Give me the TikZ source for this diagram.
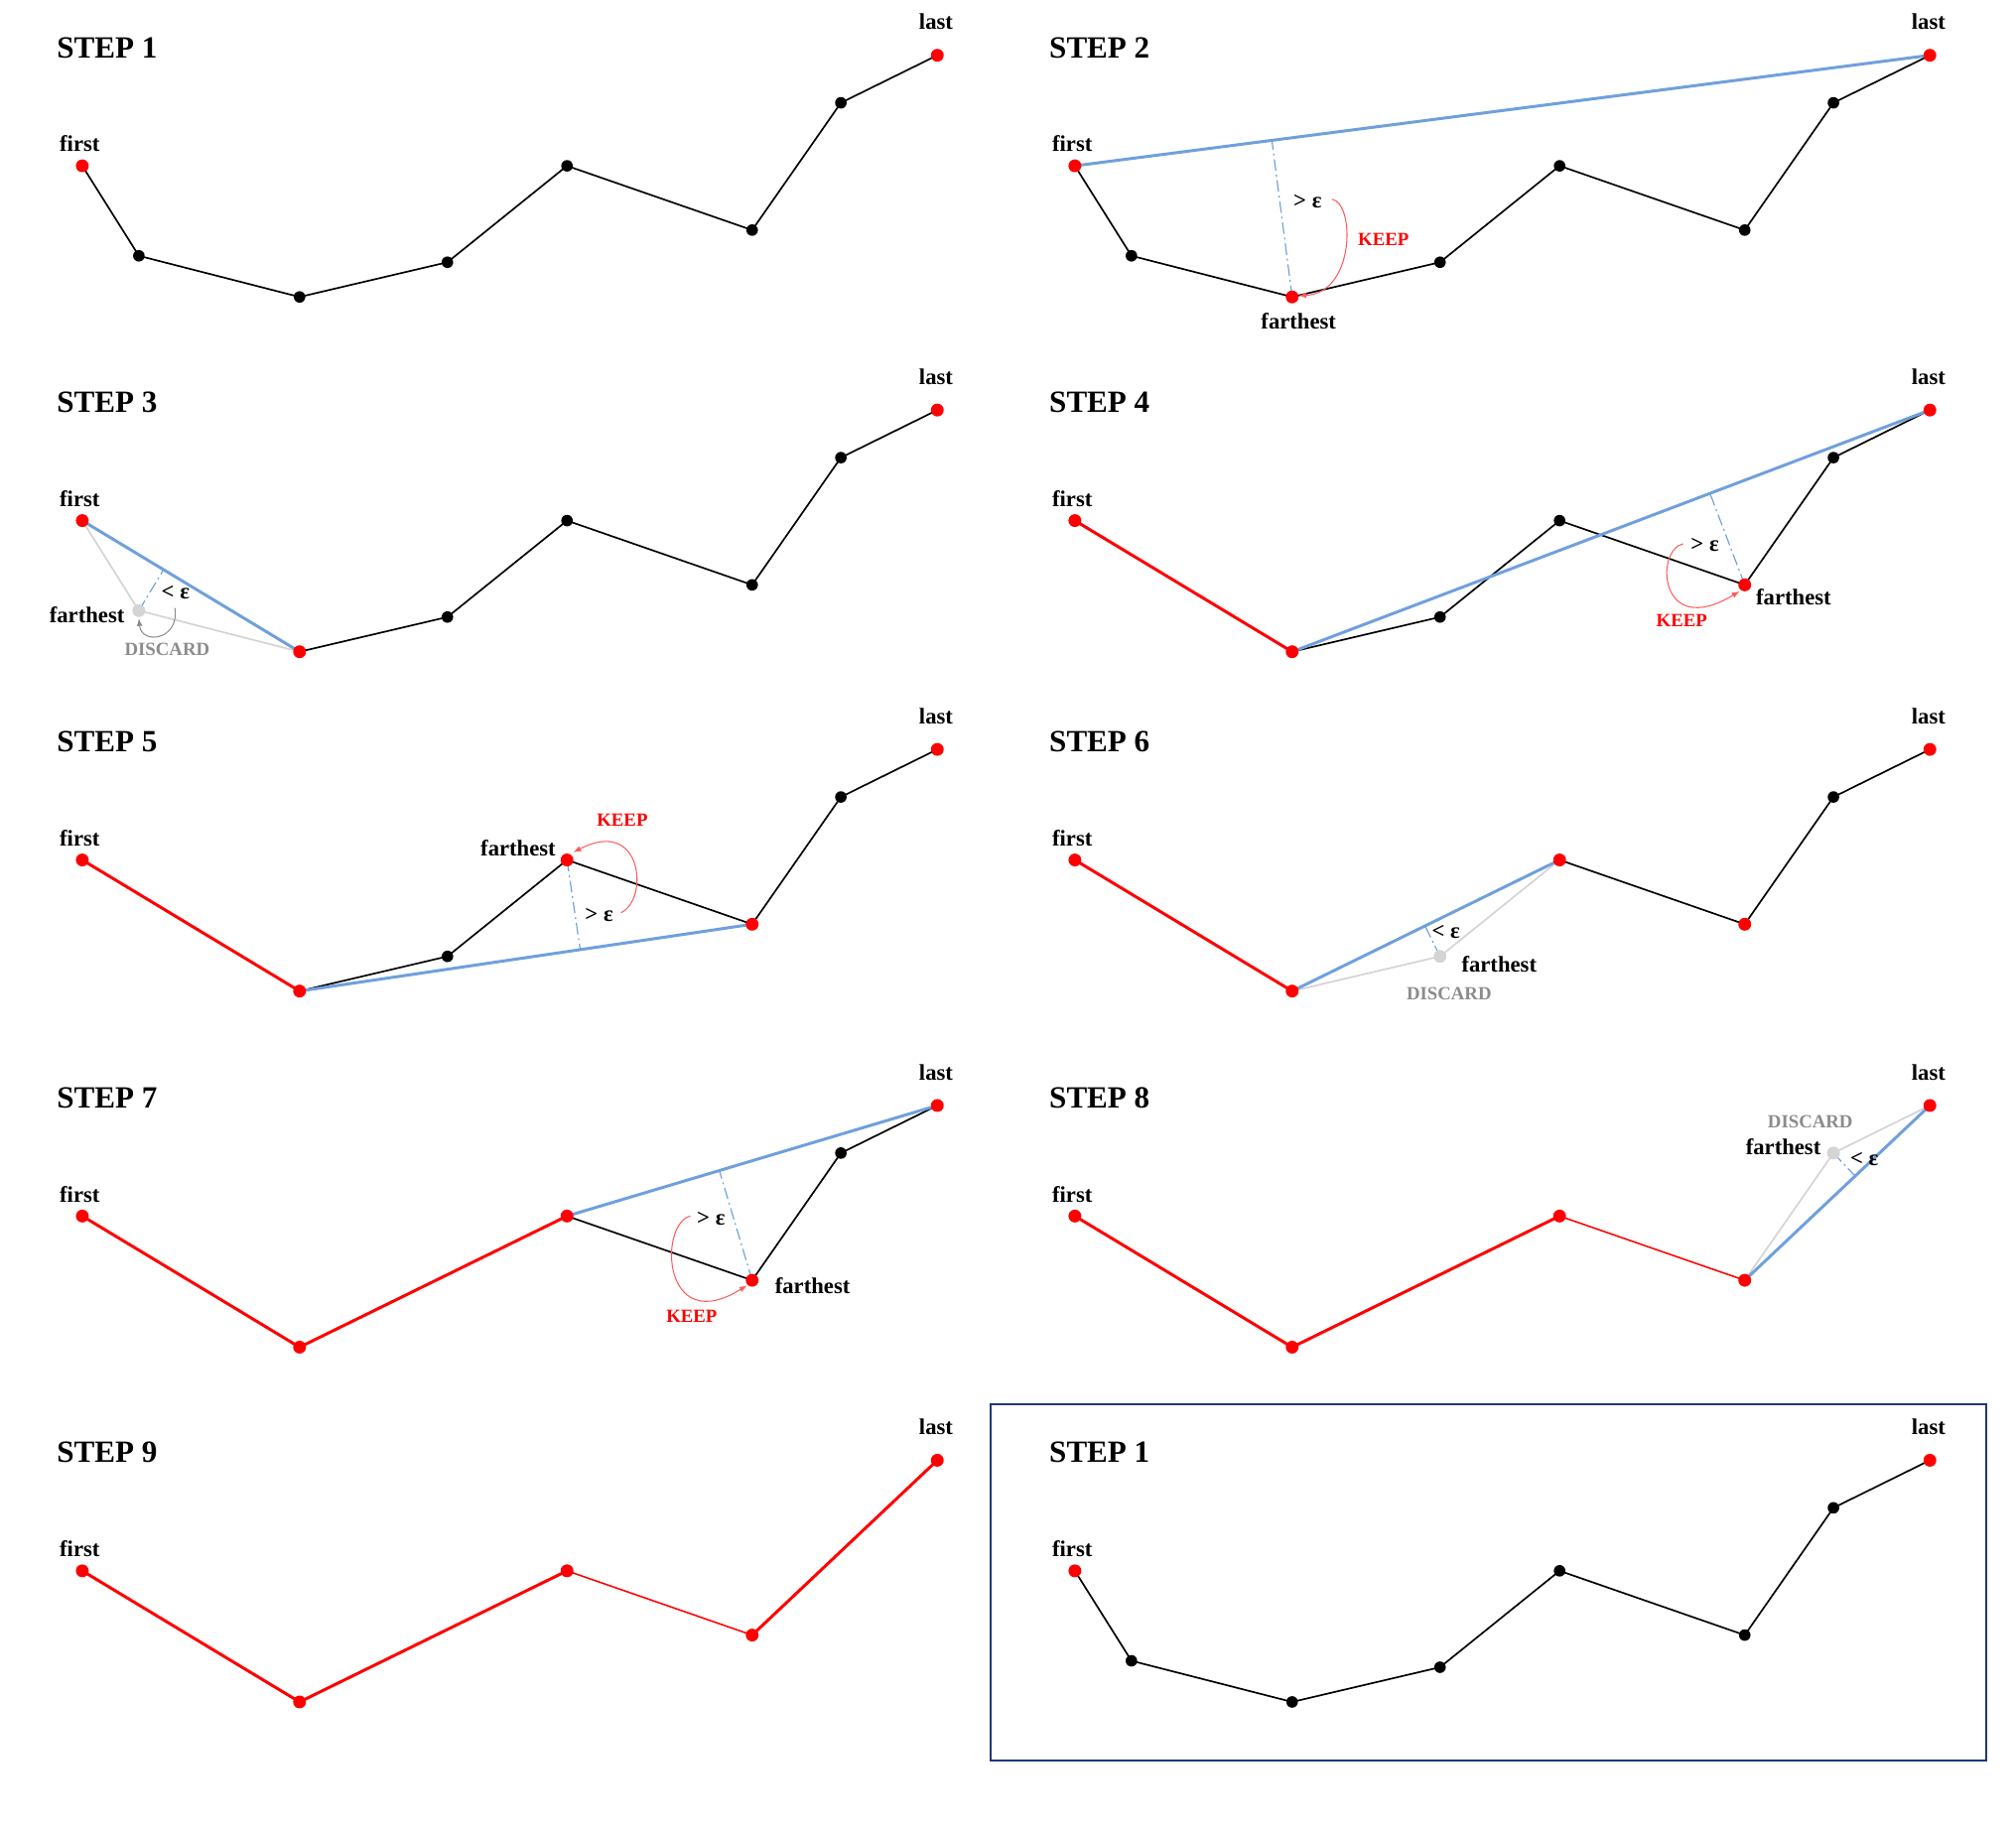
\documentclass[tikz,border=0pt]{standalone}
\usepackage{fontspec}
\setmainfont{Liberation Serif}
\usetikzlibrary{calc,arrows.meta}
\definecolor{bl}{RGB}{111,160,220}
\definecolor{lg}{RGB}{212,212,212}
\definecolor{dg}{RGB}{140,140,140}
\definecolor{navy}{RGB}{31,56,120}
\definecolor{arcred}{RGB}{255,90,90}
\tikzset{
  rdot/.style={circle,fill=red,inner sep=0pt,minimum size=10pt},
  kdot/.style={circle,fill=black,inner sep=0pt,minimum size=9pt},
  gdot/.style={circle,fill=lg,inner sep=0pt,minimum size=10pt},
  kline/.style={black,line width=1.3pt,line join=round},
  rline/.style={red,line width=2.3pt,line join=round},
  rthin/.style={red,line width=1.2pt},
  bline/.style={bl,line width=2.3pt},
  gline/.style={lg,line width=1.3pt},
  perp/.style={bl,line width=0.9pt,dash pattern=on 9pt off 3pt on 1.5pt off 3pt},
  arcr/.style={arcred,line width=0.8pt,-{Latex[length=6pt,width=4.5pt]}},
  arcg/.style={dg,line width=0.8pt,-{Latex[length=6pt,width=4.5pt]}},
  lab/.style={inner sep=0pt,font=\bfseries\fontsize{17.5}{18}\selectfont},
  ttl/.style={inner sep=0pt,anchor=west,font=\bfseries\fontsize{24}{26}\selectfont},
  keeplab/.style={inner sep=0pt,red,font=\bfseries\fontsize{14.5}{15}\selectfont},
  disclab/.style={inner sep=0pt,dg,font=\bfseries\fontsize{14.5}{15}\selectfont},
}
\newcommand\setpts[2]{%
  \coordinate (#1-1) at (64,129);
  \coordinate (#1-2) at (108,199);
  \coordinate (#1-3) at (233,231);
  \coordinate (#1-4) at (348,204);
  \coordinate (#1-5) at (441,129);
  \coordinate (#1-6) at (585,179);
  \coordinate (#1-7) at (654,80);
  \coordinate (#1-8) at (729,43);
  \node[ttl] (#1-title) at (44,37) {STEP #2};
}
\newcommand\flabels[1]{%
  \node[lab] (#1-first) at (62,112) {first};
  \node[lab] (#1-last) at (728,17) {last};
}
\newcommand\pdot[2]{\node[#1] (#2-dot) at (#2) {};}
\begin{document}
\begin{tikzpicture}[x=1pt,y=-1pt]
\useasboundingbox (0,0) rectangle (1568,1422);

% ---------- STEP 1 ----------
\begin{scope}
\setpts{sa}{1}
\draw[kline] (sa-1) -- (sa-2) -- (sa-3) -- (sa-4) -- (sa-5) -- (sa-6) -- (sa-7) -- (sa-8);
\pdot{rdot}{sa-1} \pdot{kdot}{sa-2} \pdot{kdot}{sa-3} \pdot{kdot}{sa-4}
\pdot{kdot}{sa-5} \pdot{kdot}{sa-6} \pdot{kdot}{sa-7} \pdot{rdot}{sa-8}
\flabels{sa}
\end{scope}

% ---------- STEP 2 ----------
\begin{scope}[shift={(772,0)}]
\setpts{sb}{2}
\draw[kline] (sb-1) -- (sb-2) -- (sb-3) -- (sb-4) -- (sb-5) -- (sb-6) -- (sb-7) -- (sb-8);
\draw[bline] (sb-1) -- (sb-8);
\coordinate (sb-foot) at ($(sb-1)!(sb-3)!(sb-8)$);
\draw[perp] (sb-3) -- (sb-foot);
\coordinate (sb-as) at (264,155);
\coordinate (sb-ae) at (238,230);
\draw[arcr] (sb-as) .. controls (282,158) and (282,228) .. (sb-ae);
\pdot{rdot}{sb-1} \pdot{kdot}{sb-2} \pdot{rdot}{sb-3} \pdot{kdot}{sb-4}
\pdot{kdot}{sb-5} \pdot{kdot}{sb-6} \pdot{kdot}{sb-7} \pdot{rdot}{sb-8}
\flabels{sb}
\node[lab] (sb-eps) at (245,157) {> ε};
\node[keeplab] (sb-keep) at (304,186) {KEEP};
\node[lab] (sb-far) at (238,250) {farthest};
\end{scope}

% ---------- STEP 3 ----------
\begin{scope}[shift={(0,276)}]
\setpts{sc}{3}
\draw[gline] (sc-1) -- (sc-2) -- (sc-3);
\draw[kline] (sc-3) -- (sc-4) -- (sc-5) -- (sc-6) -- (sc-7) -- (sc-8);
\draw[bline] (sc-1) -- (sc-3);
\coordinate (sc-foot) at ($(sc-1)!(sc-2)!(sc-3)$);
\draw[perp] (sc-2) -- (sc-foot);
\coordinate (sc-as) at (136,197);
\coordinate (sc-ae) at (108,205);
\draw[arcg] (sc-as) .. controls (140,222) and (110,226) .. (sc-ae);
\pdot{rdot}{sc-1} \pdot{gdot}{sc-2} \pdot{rdot}{sc-3} \pdot{kdot}{sc-4}
\pdot{kdot}{sc-5} \pdot{kdot}{sc-6} \pdot{kdot}{sc-7} \pdot{rdot}{sc-8}
\flabels{sc}
\node[lab] (sc-eps) at (136.5,185) {< ε};
\node[lab,anchor=east] (sc-far) at (97,202) {farthest};
\node[disclab] (sc-disc) at (130,229) {DISCARD};
\end{scope}

% ---------- STEP 4 ----------
\begin{scope}[shift={(772,276)}]
\setpts{sd}{4}
\draw[rline] (sd-1) -- (sd-3);
\draw[kline] (sd-3) -- (sd-4) -- (sd-5) -- (sd-6) -- (sd-7) -- (sd-8);
\draw[bline] (sd-3) -- (sd-8);
\coordinate (sd-foot) at ($(sd-3)!(sd-6)!(sd-8)$);
\draw[perp] (sd-6) -- (sd-foot);
\coordinate (sd-as) at (537,147);
\coordinate (sd-ae) at (581,184);
\draw[arcr] (sd-as) .. controls (515,152) and (518,222) .. (sd-ae);
\pdot{rdot}{sd-1} \pdot{rdot}{sd-3} \pdot{kdot}{sd-4}
\pdot{kdot}{sd-5} \pdot{rdot}{sd-6} \pdot{kdot}{sd-7} \pdot{rdot}{sd-8}
\flabels{sd}
\node[lab] (sd-eps) at (554,148) {> ε};
\node[keeplab] (sd-keep) at (536,206.5) {KEEP};
\node[lab] (sd-far) at (623,188.5) {farthest};
\end{scope}

% ---------- STEP 5 ----------
\begin{scope}[shift={(0,540)}]
\setpts{se}{5}
\draw[rline] (se-1) -- (se-3);
\draw[kline] (se-3) -- (se-4) -- (se-5) -- (se-6) -- (se-7) -- (se-8);
\draw[bline] (se-3) -- (se-6);
\coordinate (se-foot) at ($(se-3)!(se-5)!(se-6)$);
\draw[perp] (se-5) -- (se-foot);
\coordinate (se-as) at (483,170);
\coordinate (se-ae) at (446,123);
\draw[arcr] (se-as) .. controls (505,160) and (500,95) .. (se-ae);
\pdot{rdot}{se-1} \pdot{rdot}{se-3} \pdot{kdot}{se-4}
\pdot{rdot}{se-5} \pdot{rdot}{se-6} \pdot{kdot}{se-7} \pdot{rdot}{se-8}
\flabels{se}
\node[keeplab] (se-keep) at (484,98) {KEEP};
\node[lab] (se-far) at (403,120) {farthest};
\node[lab] (se-eps) at (466,171.5) {> ε};
\end{scope}

% ---------- STEP 6 ----------
\begin{scope}[shift={(772,540)}]
\setpts{sf}{6}
\draw[rline] (sf-1) -- (sf-3);
\draw[gline] (sf-3) -- (sf-4) -- (sf-5);
\draw[kline] (sf-5) -- (sf-6) -- (sf-7) -- (sf-8);
\draw[bline] (sf-3) -- (sf-5);
\coordinate (sf-foot) at ($(sf-3)!(sf-4)!(sf-5)$);
\draw[perp] (sf-4) -- (sf-foot);
\pdot{rdot}{sf-1} \pdot{rdot}{sf-3} \pdot{gdot}{sf-4}
\pdot{rdot}{sf-5} \pdot{rdot}{sf-6} \pdot{kdot}{sf-7} \pdot{rdot}{sf-8}
\flabels{sf}
\node[lab] (sf-eps) at (352.6,185) {< ε};
\node[lab] (sf-far) at (394,210) {farthest};
\node[disclab] (sf-disc) at (355,233) {DISCARD};
\end{scope}

% ---------- STEP 7 ----------
\begin{scope}[shift={(0,817)}]
\setpts{sg}{7}
\draw[rline] (sg-1) -- (sg-3) -- (sg-5);
\draw[kline] (sg-5) -- (sg-6) -- (sg-7) -- (sg-8);
\draw[bline] (sg-5) -- (sg-8);
\coordinate (sg-foot) at ($(sg-5)!(sg-6)!(sg-8)$);
\draw[perp] (sg-6) -- (sg-foot);
\coordinate (sg-as) at (537,129);
\coordinate (sg-ae) at (581,183);
\draw[arcr] (sg-as) .. controls (512,135) and (515,224) .. (sg-ae);
\pdot{rdot}{sg-1} \pdot{rdot}{sg-3}
\pdot{rdot}{sg-5} \pdot{rdot}{sg-6} \pdot{kdot}{sg-7} \pdot{rdot}{sg-8}
\flabels{sg}
\node[lab] (sg-eps) at (553,131) {> ε};
\node[keeplab] (sg-keep) at (538,207) {KEEP};
\node[lab] (sg-far) at (632,183) {farthest};
\end{scope}

% ---------- STEP 8 ----------
\begin{scope}[shift={(772,817)}]
\setpts{sh}{8}
\draw[rline] (sh-1) -- (sh-3) -- (sh-5);
\draw[rthin] (sh-5) -- (sh-6);
\draw[gline] (sh-6) -- (sh-7) -- (sh-8);
\draw[bline] (sh-6) -- (sh-8);
\coordinate (sh-foot) at ($(sh-6)!(sh-7)!(sh-8)$);
\draw[perp] (sh-7) -- (sh-foot);
\pdot{rdot}{sh-1} \pdot{rdot}{sh-3}
\pdot{rdot}{sh-5} \pdot{rdot}{sh-6} \pdot{gdot}{sh-7} \pdot{rdot}{sh-8}
\flabels{sh}
\node[disclab] (sh-disc) at (636,56) {DISCARD};
\node[lab] (sh-far) at (615,75.5) {farthest};
\node[lab] (sh-eps) at (678,85) {< ε};
\end{scope}

% ---------- STEP 9 ----------
\begin{scope}[shift={(0,1093)}]
\setpts{si}{9}
\draw[rline] (si-1) -- (si-3) -- (si-5);
\draw[rthin] (si-5) -- (si-6);
\draw[rline] (si-6) -- (si-8);
\pdot{rdot}{si-1} \pdot{rdot}{si-3}
\pdot{rdot}{si-5} \pdot{rdot}{si-6} \pdot{rdot}{si-8}
\flabels{si}
\end{scope}

% ---------- STEP 1 (boxed) ----------
\begin{scope}[shift={(772,1093)}]
\setpts{sj}{1}
\draw[kline] (sj-1) -- (sj-2) -- (sj-3) -- (sj-4) -- (sj-5) -- (sj-6) -- (sj-7) -- (sj-8);
\pdot{rdot}{sj-1} \pdot{kdot}{sj-2} \pdot{kdot}{sj-3} \pdot{kdot}{sj-4}
\pdot{kdot}{sj-5} \pdot{kdot}{sj-6} \pdot{kdot}{sj-7} \pdot{rdot}{sj-8}
\flabels{sj}
\end{scope}
\coordinate (box-nw) at (770.5,1092.5);
\coordinate (box-se) at (1544.6,1369.8);
\draw[navy,line width=1.6pt] (box-nw) rectangle (box-se);
\end{tikzpicture}
\end{document}
